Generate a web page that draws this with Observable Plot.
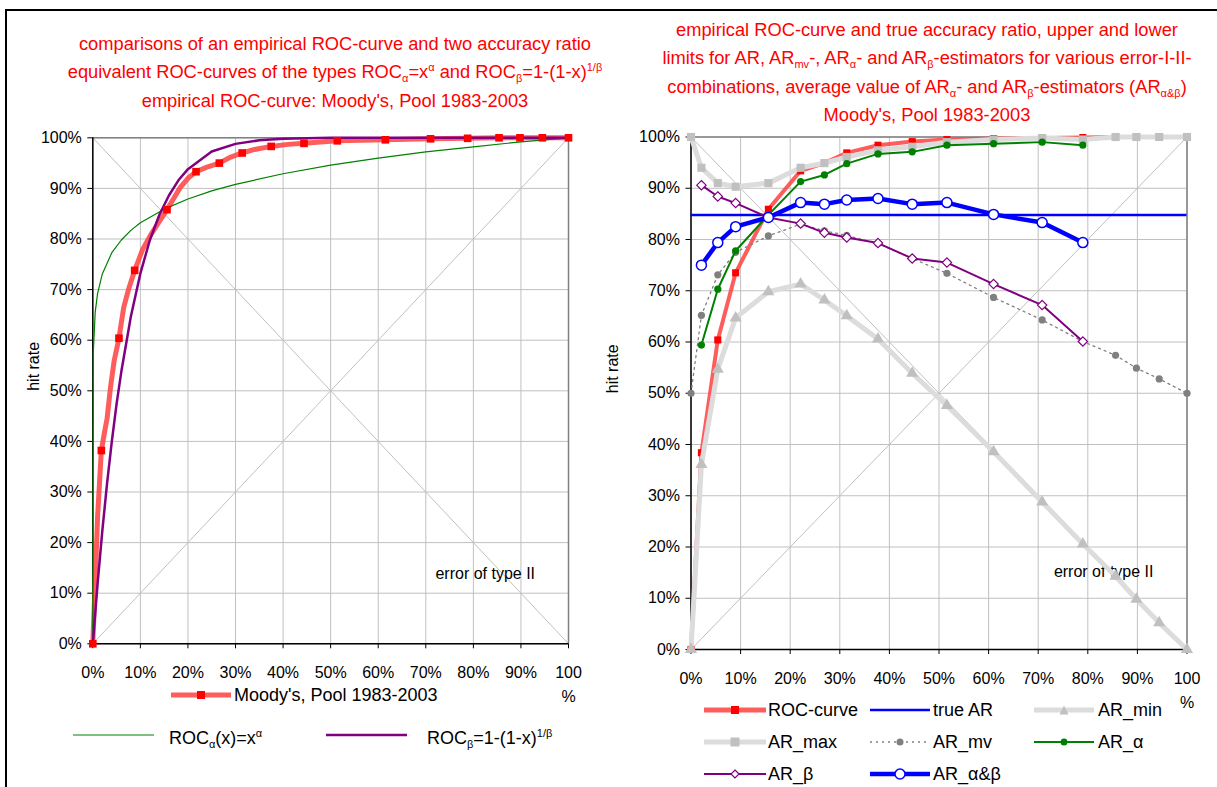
<!DOCTYPE html>
<html><head><meta charset="utf-8">
<script src="https://cdn.jsdelivr.net/npm/d3@7"></script>
<script src="https://cdn.jsdelivr.net/npm/@observablehq/plot@0.6"></script>
<style>
body{margin:0;background:#fff;font-family:"Liberation Sans",Arial,sans-serif;}
#wrap{position:relative;width:1217px;height:787px;overflow:hidden;background:#fff;}
.abs{position:absolute;}
.title{color:#ff0000;font-size:18.3px;white-space:nowrap;transform:translate(-50%,-50%);line-height:1;}
.title sub,.leg sub{font-size:11px;vertical-align:-4px;line-height:0;}
.title sup,.leg sup{font-size:11px;vertical-align:7px;line-height:0;}
.leg{font-size:18px;white-space:nowrap;transform:translateY(-50%);line-height:1;color:#000;}
.sw{position:absolute;transform:translateY(-50%);}
.border{position:absolute;background:#000;}
</style></head>
<body><div id="wrap"></div>
<script>
// ---------- shared axis data ----------
const xTicks = [0,10,20,30,40,50,60,70,80,90,100];
const xTickLabels = ["0%","10%","20%","30%","40%","50%","60%","70%","80%","90%","100\n%"];
const yTicks = [0,10,20,30,40,50,60,70,80,90,100];
const yTickLabels = ["0%","10%","20%","30%","40%","50%","60%","70%","80%","90%","100%"];
const diagDownX = [0,100], diagDownY = [100,0];
const diagUpX = [0,100], diagUpY = [0,100];
const axisLabel = "hit rate";
const annotation = "error of type II";

// ---------- left chart data ----------
const leftRocCurveX = [0,0.5,1.0,1.8,2.5,3.0,3.7,4.5,5.5,6.5,7.5,8.8,10.5,12.1,14.0,15.6,17.0,18.4,20.0,21.7,24.0,26.6,29.0,31.4,34.0,37.5,41.0,44.4,51.4,61.5,71.0,78.8,85.4,89.8,94.5,100];
const leftRocCurveY = [0,12,25,38.2,42,44.5,50.5,56,60.4,66.5,70,73.8,78,80.7,83.5,85.8,88,90.2,92,93.3,94.2,95.0,96.2,97.0,97.7,98.3,98.7,98.9,99.4,99.6,99.8,99.9,100,100,100,100];
const leftRocMarkX = [0,1.8,5.5,8.8,15.6,21.7,26.6,31.4,37.5,44.4,51.4,61.5,71.0,78.8,85.4,89.8,94.5,100];
const leftRocMarkY = [0,38.2,60.4,73.8,85.8,93.3,95.0,97.0,98.3,98.9,99.4,99.6,99.8,99.9,100,100,100,100];
const alphaCurveX = [0,0.1,0.5,1,2,4,6,8,10,15,20,25,30,40,50,60,70,80,90,100];
const alphaCurveY = [0,57.5,65.5,69.2,73.1,77.3,79.8,81.7,83.2,85.9,87.9,89.5,90.8,92.9,94.6,96.0,97.2,98.2,99.2,100];
const betaCurveX = [0,1,2,3,4,5,6,8,10,12,14,16,18,20,25,30,35,40,50,60,100];
const betaCurveY = [0,11.8,22.3,31.7,40.0,47.4,53.8,64.7,73.2,79.8,84.8,88.6,91.6,93.8,97.3,98.8,99.5,99.8,100,100,100];

// ---------- right chart data ----------
const arX = [0,2.1,5.4,9.0,15.6,22.1,26.9,31.4,37.7,44.6,51.6,61.0,70.8,79.0,85.6,89.8,94.4,100];
const rocY   = [0,38.4,60.4,73.5,85.9,93.4,94.9,96.9,98.4,99.1,99.5,99.7,99.8,99.9,100,100,100,100];
const arMaxY = [100,94.0,91.0,90.3,91.0,94.0,94.9,96.1,97.4,98.1,99.0,99.5,99.8,99.5,100,100,100,100];
const arMinY = [0,36.1,54.7,64.7,69.8,71.3,68.2,65.1,60.6,53.9,47.6,38.6,28.8,20.6,14.3,9.8,5.2,0];
const arMvY  = [50,65.2,73.1,77.5,80.7,83.0,81.7,80.8,79.2,76.3,73.4,68.7,64.3,60.1,57.4,54.9,52.8,50];
const estX = [2.1,5.4,9.0,15.6,22.1,26.9,31.4,37.7,44.6,51.6,61.0,70.8,79.0];
const arAlphaY = [59.4,70.3,77.8,84.8,91.3,92.6,94.8,96.7,97.1,98.4,98.7,99.0,98.4];
const arBetaY  = [90.6,88.4,87.1,84.3,83.1,81.3,80.4,79.3,76.3,75.5,71.3,67.2,60.1];
const arABY    = [75.0,79.4,82.5,84.3,87.2,86.9,87.7,88.0,86.9,87.2,84.9,83.3,79.4];
const trueAR = 84.8;

const pts = (xs, ys) => xs.map((x, i) => ({x, y: ys[i]}));

function baseMarks(ann, labelDx) {
  return [
    Plot.ruleX(xTicks, {stroke: "#c0c0c0", strokeWidth: 1}),
    Plot.ruleY(yTicks, {stroke: "#c0c0c0", strokeWidth: 1}),
    Plot.line(pts(diagDownX, diagDownY), {x: "x", y: "y", stroke: "#c0c0c0", strokeWidth: 1}),
    Plot.line(pts(diagUpX, diagUpY), {x: "x", y: "y", stroke: "#c0c0c0", strokeWidth: 1}),
    Plot.ruleX([100], {stroke: "#808080", strokeWidth: 1.5}),
    Plot.ruleY([100], {stroke: "#808080", strokeWidth: 1.5}),
    Plot.ruleX([0], {stroke: "#000", strokeWidth: 1.5}),
    Plot.ruleY([0], {stroke: "#000", strokeWidth: 1.5}),
    Plot.axisX({ticks: xTicks, tickFormat: d => xTickLabels[xTicks.indexOf(d)], tickSize: 5, tickPadding: 12, fontSize: 16, lineHeight: 1.5, stroke: "#000", label: null}),
    Plot.axisY({ticks: yTicks, tickFormat: d => yTickLabels[yTicks.indexOf(d)], tickSize: 5, tickPadding: 6, fontSize: 16, stroke: "#000", label: null}),
    Plot.text([axisLabel], {frameAnchor: "left", rotate: -90, dx: labelDx, text: d => d, fontSize: 16, fill: "#000"}),
    Plot.text([ann], {x: "x", y: "y", text: "t", fontSize: 16, fill: "#000"})
  ];
}

const common = {
  x: {domain: [0, 100]},
  y: {domain: [0, 100]},
  style: {fontFamily: "'Liberation Sans', Arial, sans-serif", fontSize: "16px", color: "#000", background: "transparent", overflow: "visible"}
};

// ---------- left plot ----------
const left = Plot.plot({
  ...common,
  width: 608, height: 720,
  marginLeft: 92.3, marginRight: 40, marginTop: 137.3, marginBottom: 76.7,
  marks: [
    ...baseMarks({x: 82.5, y: 13.9, t: annotation}, -59),
    Plot.line(pts(leftRocCurveX, leftRocCurveY), {x: "x", y: "y", stroke: "#ff4040", strokeOpacity: 0.85, strokeWidth: 5}),
    Plot.line(pts(alphaCurveX, alphaCurveY), {x: "x", y: "y", stroke: "#008000", strokeWidth: 1.2}),
    Plot.line(pts(betaCurveX, betaCurveY), {x: "x", y: "y", stroke: "#800080", strokeWidth: 2.5}),
    Plot.dot(pts(leftRocMarkX, leftRocMarkY), {x: "x", y: "y", symbol: "square", r: 4.3, fill: "#ff0000", stroke: "none"})
  ]
});
left.style.position = "absolute"; left.style.left = "0px"; left.style.top = "0px";

// ---------- right plot ----------
const right = Plot.plot({
  ...common,
  width: 609, height: 730,
  marginLeft: 82.5, marginRight: 30.5, marginTop: 136.5, marginBottom: 81,
  marks: [
    ...baseMarks({x: 83.2, y: 15.2, t: annotation}, -78),
    Plot.line(pts(arX, rocY), {x: "x", y: "y", stroke: "#ff4040", strokeOpacity: 0.85, strokeWidth: 4}),
    Plot.dot(pts(arX, rocY), {x: "x", y: "y", symbol: "square", r: 4, fill: "#ff0000", stroke: "none"}),
    Plot.ruleY([trueAR], {x1: 0, x2: 100, stroke: "#0000ff", strokeWidth: 2.5}),
    Plot.line(pts(arX, arMinY), {x: "x", y: "y", stroke: "#dcdcdc", strokeWidth: 5}),
    Plot.dot(pts(arX, arMinY), {x: "x", y: "y", symbol: "triangle", r: 4.5, fill: "#c0c0c0", stroke: "none"}),
    Plot.line(pts(arX, arMaxY), {x: "x", y: "y", stroke: "#dcdcdc", strokeWidth: 5}),
    Plot.dot(pts(arX, arMaxY), {x: "x", y: "y", symbol: "square", r: 4.6, fill: "#c0c0c0", stroke: "none"}),
    Plot.line(pts(arX, arMvY), {x: "x", y: "y", stroke: "#808080", strokeWidth: 1.3, strokeDasharray: "2,4"}),
    Plot.dot(pts(arX, arMvY), {x: "x", y: "y", r: 3.6, fill: "#808080", stroke: "none"}),
    Plot.line(pts(estX, arAlphaY), {x: "x", y: "y", stroke: "#008000", strokeWidth: 2}),
    Plot.dot(pts(estX, arAlphaY), {x: "x", y: "y", r: 3.6, fill: "#008000", stroke: "none"}),
    Plot.line(pts(estX, arBetaY), {x: "x", y: "y", stroke: "#800080", strokeWidth: 2}),
    Plot.dot(pts(estX, arBetaY), {x: "x", y: "y", symbol: "diamond2", r: 4.2, fill: "#fff", stroke: "#800080", strokeWidth: 1.2}),
    Plot.line(pts(estX, arABY), {x: "x", y: "y", stroke: "#0000ff", strokeWidth: 4.5}),
    Plot.dot(pts(estX, arABY), {x: "x", y: "y", r: 5, fill: "#fff", stroke: "#0000ff", strokeWidth: 1.5})
  ]
});
right.style.position = "absolute"; right.style.left = "608px"; right.style.top = "0px";

const wrap = document.getElementById("wrap");
wrap.appendChild(left);
wrap.appendChild(right);

// ---------- borders ----------
wrap.insertAdjacentHTML("beforeend",
  `<div class="border" style="left:5px;top:9px;width:1212px;height:2px"></div>
   <div class="border" style="left:5px;top:9px;width:2px;height:778px"></div>`);

// ---------- titles ----------
const leftTitle = [
  "comparisons of an empirical ROC-curve and two accuracy ratio",
  "equivalent ROC-curves of the types ROC<sub>α</sub>=x<sup>α</sup> and ROC<sub>β</sub>=1-(1-x)<sup>1/β</sup>",
  "empirical ROC-curve: Moody's, Pool 1983-2003"
];
const leftTitleY = [44, 72, 101];
const rightTitle = [
  "empirical ROC-curve and true accuracy ratio, upper and lower",
  "limits for AR, AR<sub>mv</sub>-, AR<sub>α</sub>- and AR<sub>β</sub>-estimators for various error-I-II-",
  "combinations, average value of AR<sub>α</sub>- and AR<sub>β</sub>-estimators (AR<sub>α&amp;β</sub>)",
  "Moody's, Pool 1983-2003"
];
const rightTitleY = [30, 58, 87, 115];
leftTitle.forEach((t, i) => wrap.insertAdjacentHTML("beforeend", `<div class="abs title" style="left:335px;top:${leftTitleY[i]}px">${t}</div>`));
rightTitle.forEach((t, i) => wrap.insertAdjacentHTML("beforeend", `<div class="abs title" style="left:927px;top:${rightTitleY[i]}px">${t}</div>`));

// ---------- legends ----------
function swatch(w, line, marker) {
  let s = `<svg width="${w}" height="16" style="display:block">`;
  s += `<line x1="0" x2="${w}" y1="8" y2="8" stroke="${line.stroke}" stroke-width="${line.width}" ${line.dash ? `stroke-dasharray="${line.dash}"` : ""} ${line.opacity ? `stroke-opacity="${line.opacity}"` : ""}/>`;
  const c = w / 2;
  if (marker) {
    const m = marker;
    if (m.shape === "square") s += `<rect x="${c - m.size / 2}" y="${8 - m.size / 2}" width="${m.size}" height="${m.size}" fill="${m.fill}"/>`;
    if (m.shape === "circle") s += `<circle cx="${c}" cy="8" r="${m.size / 2}" fill="${m.fill}" stroke="${m.stroke || "none"}" stroke-width="1.5"/>`;
    if (m.shape === "triangle") s += `<path d="M${c},${8 - m.size / 2}L${c + m.size / 2},${8 + m.size / 2}L${c - m.size / 2},${8 + m.size / 2}Z" fill="${m.fill}"/>`;
    if (m.shape === "diamond") s += `<path d="M${c},${8 - m.size / 2}L${c + m.size / 2},8L${c},${8 + m.size / 2}L${c - m.size / 2},8Z" fill="${m.fill}" stroke="${m.stroke}" stroke-width="1.2"/>`;
  }
  return s + `</svg>`;
}
const legendItems = [
  // left legend
  {x: 171, w: 60, y: 695, tx: 234, label: "Moody's, Pool 1983-2003", line: {stroke: "#ff4040", width: 5, opacity: 0.85}, marker: {shape: "square", size: 8, fill: "#ff0000"}},
  {x: 73, w: 81, y: 735, ty: 738, tx: 169, label: "ROC<sub>α</sub>(x)=x<sup>α</sup>", line: {stroke: "#008000", width: 1.2}},
  {x: 326, w: 81, y: 735, ty: 738, tx: 427, label: "ROC<sub>β</sub>=1-(1-x)<sup>1/β</sup>", line: {stroke: "#800080", width: 2.5}},
  // right legend
  {x: 704, w: 62, y: 710, tx: 768, label: "ROC-curve", line: {stroke: "#ff4040", width: 5, opacity: 0.85}, marker: {shape: "square", size: 8, fill: "#ff0000"}},
  {x: 870, w: 60, y: 710, tx: 933, label: "true AR", line: {stroke: "#0000ff", width: 2.5}},
  {x: 1034, w: 60, y: 710, tx: 1098, label: "AR_min", line: {stroke: "#dcdcdc", width: 5}, marker: {shape: "triangle", size: 9, fill: "#c0c0c0"}},
  {x: 704, w: 62, y: 742, tx: 768, label: "AR_max", line: {stroke: "#dcdcdc", width: 5}, marker: {shape: "square", size: 9, fill: "#c0c0c0"}},
  {x: 870, w: 60, y: 742, tx: 933, label: "AR_mv", line: {stroke: "#808080", width: 1.3, dash: "2,4"}, marker: {shape: "circle", size: 7, fill: "#808080"}},
  {x: 1034, w: 60, y: 742, tx: 1098, label: "AR_α", line: {stroke: "#008000", width: 2}, marker: {shape: "circle", size: 7, fill: "#008000"}},
  {x: 704, w: 62, y: 774, tx: 768, label: "AR_β", line: {stroke: "#800080", width: 2}, marker: {shape: "diamond", size: 8, fill: "#fff", stroke: "#800080"}},
  {x: 870, w: 60, y: 774, tx: 933, label: "AR_α&amp;β", line: {stroke: "#0000ff", width: 4.5}, marker: {shape: "circle", size: 10, fill: "#fff", stroke: "#0000ff"}}
];
legendItems.forEach(it => {
  wrap.insertAdjacentHTML("beforeend", `<div class="sw" style="left:${it.x}px;top:${it.y}px">${swatch(it.w, it.line, it.marker)}</div>`);
  wrap.insertAdjacentHTML("beforeend", `<div class="abs leg" style="left:${it.tx}px;top:${it.ty || it.y}px">${it.label}</div>`);
});
</script>
</body></html>
